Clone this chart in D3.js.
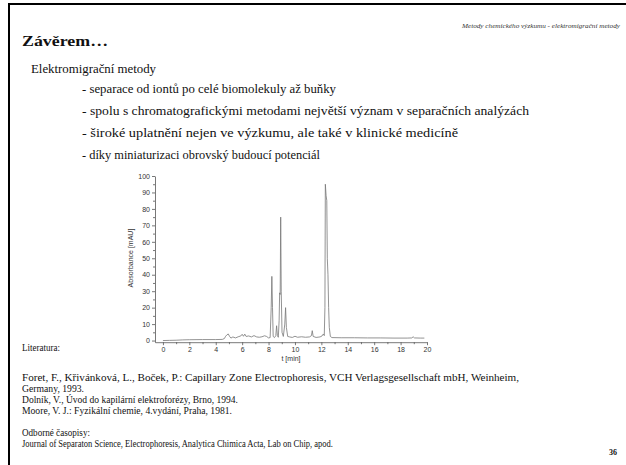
<!DOCTYPE html>
<html>
<head>
<meta charset="utf-8">
<script src="https://cdn.jsdelivr.net/npm/d3@7"></script>
<style>
  html, body { margin: 0; padding: 0; background: #fff; }
  svg { display: block; }
</style>
</head>
<body>
<svg id="slide"></svg>
<script>
// chromatogram trace: [time in min, absorbance in mAU]
const trace = [
  [0, 0], [0.5, 0.1], [1, 0.2], [1.5, 0.4], [2, 0.5], [3, 0.6], [4, 0.6], [4.5, 0.7],
  [4.65, 1.2], [4.75, 2.6], [4.85, 3.5], [4.95, 4], [5.05, 2.5], [5.15, 1.5], [5.3, 2.2],
  [5.5, 1.6], [5.7, 2.3], [5.9, 2.8], [6.0, 3.8], [6.1, 2.6], [6.2, 3.9], [6.3, 2.5],
  [6.5, 2.8], [6.7, 2.2], [6.9, 3.0], [7.1, 2.2], [7.3, 2.0], [7.5, 2.3], [7.7, 2.9],
  [7.85, 2.5], [8.0, 1.6], [8.12, 1.8], [8.2, 20], [8.25, 39], [8.3, 20], [8.35, 2.5],
  [8.45, 1.8], [8.55, 3], [8.61, 9], [8.67, 3], [8.74, 2], [8.8, 12], [8.84, 29],
  [8.88, 28], [8.92, 75], [8.96, 30], [9.02, 5], [9.12, 2.5], [9.23, 10], [9.29, 20],
  [9.35, 8], [9.45, 2.5], [9.6, 2.2], [9.8, 1.9], [10, 2.6], [10.2, 2.0], [10.5, 2.3],
  [10.8, 2.0], [11.1, 2.2], [11.25, 3], [11.31, 6], [11.38, 2.5], [11.6, 1.9], [11.9, 2.2],
  [12.05, 2.8], [12.15, 4], [12.22, 3], [12.27, 20], [12.3, 95], [12.36, 88], [12.41, 85],
  [12.45, 50], [12.5, 40], [12.55, 20], [12.6, 8], [12.68, 2.5], [12.8, 1.8], [13.5, 1.7],
  [14.5, 1.7], [15.5, 1.6], [16.5, 1.6], [17.5, 1.5], [18.5, 1.5], [18.85, 1.6],
  [18.95, 2.3], [19.05, 1.6], [19.5, 1.5], [19.8, 1.5]
];

const xTickValues = [0, 2, 4, 6, 8, 10, 12, 14, 16, 18, 20];
const xMinorValues = [1, 3, 5, 7, 9, 11, 13, 15, 17, 19];
const yTickValues = [0, 10, 20, 30, 40, 50, 60, 70, 80, 90, 100];
const yMinorValues = [5, 15, 25, 35, 45, 55, 65, 75, 85, 95];

const headerText = "Metody chemického výzkumu - elektromigrační metody";
const titleText = "Závěrem…";
const subtitleText = "Elektromigrační metody";
const bullets = [
  "- separace od iontů po celé biomolekuly až buňky",
  "- spolu s chromatografickými metodami největší význam v separačních analýzách",
  "- široké uplatnění nejen ve výzkumu, ale také v klinické medicíně",
  "- díky miniaturizaci obrovský budoucí potenciál"
];
const references = [
  "Foret, F., Křivánková, L., Boček, P.: Capillary Zone Electrophoresis, VCH Verlagsgesellschaft mbH, Weinheim,",
  "Germany, 1993.",
  "Dolník, V., Úvod do kapilární elektroforézy, Brno, 1994.",
  "Moore, V. J.: Fyzikální chemie, 4.vydání,  Praha, 1981."
];
const journalsTitle = "Odborné časopisy:";
const journals = "Journal of Separaton Science, Electrophoresis, Analytica Chimica Acta, Lab on Chip, apod.";
const pageNumber = "36";

const W = 626, H = 465;
const svg = d3.select('#slide')
  .attr('width', W)
  .attr('height', H);

svg.append('rect').attr('width', W).attr('height', H).attr('fill', '#fff');

// slide frame
svg.append('line')
  .attr('x1', 8).attr('x2', W).attr('y1', 4).attr('y2', 4)
  .attr('stroke', '#000').attr('stroke-width', 2);
svg.append('line')
  .attr('x1', 9).attr('x2', 9).attr('y1', 3).attr('y2', H)
  .attr('stroke', '#000').attr('stroke-width', 2);

const serif = "'Liberation Serif', 'Times New Roman', serif";

function addText(str, x, y, size, opts) {
  opts = opts || {};
  const t = svg.append('text')
    .attr('x', x)
    .attr('y', y)
    .attr('font-family', serif)
    .attr('font-size', size + 'px')
    .attr('fill', opts.fill || '#111')
    .text(str);
  if (opts.weight) t.attr('font-weight', opts.weight);
  if (opts.style) t.attr('font-style', opts.style);
  if (opts.anchor) t.attr('text-anchor', opts.anchor);
  if (opts.width) t.attr('textLength', opts.width).attr('lengthAdjust', 'spacingAndGlyphs');
  return t;
}

addText(headerText, 620, 28, 7, { style: 'italic', anchor: 'end', width: 158, fill: '#333' });
addText(titleText, 22, 46, 15.5, { weight: 'bold', width: 86 });
addText(subtitleText, 31, 73, 12.5, { width: 125 });

const bulletY = [93, 115, 137, 159];
const bulletW = [254, 447, 376, 238];
bullets.forEach((b, i) => addText(b, 82, bulletY[i], 11.8, { width: bulletW[i] }));

addText("Literatura:", 22, 351, 9.5, { width: 38 });
const refY = [381, 392, 403, 414];
const refW = [497, 62, 216, 210];
references.forEach((r, i) => addText(r, 22, refY[i], 9.6, { width: refW[i] }));
addText(journalsTitle, 22, 436, 9.6, { width: 68 });
addText(journals, 22, 447, 9.6, { width: 311 });
addText(pageNumber, 617, 455, 8, { weight: 'bold', anchor: 'end' });

// ---- chromatogram ----
const x = d3.scaleLinear().domain([-0.6, 20]).range([155, 427]);
const y = d3.scaleLinear().domain([-1, 100]).range([342.2, 176]);

const chart = svg.append('g').attr('font-family', "'Liberation Sans', Arial, sans-serif");
const axisColor = '#555';

const xAxisG = chart.append('g')
  .attr('transform', `translate(0,${y(-1)})`)
  .call(d3.axisBottom(x).tickValues(xTickValues).tickSize(3).tickSizeOuter(0).tickPadding(2));
const xMinorG = chart.append('g')
  .attr('transform', `translate(0,${y(-1)})`)
  .call(d3.axisBottom(x).tickValues(xMinorValues).tickSize(2).tickSizeOuter(0).tickFormat(''));
xMinorG.select('.domain').remove();

const yAxisG = chart.append('g')
  .attr('transform', `translate(${x(-0.6)},0)`)
  .call(d3.axisLeft(y).tickValues(yTickValues).tickSize(3).tickSizeOuter(0).tickPadding(2));
const yMinorG = chart.append('g')
  .attr('transform', `translate(${x(-0.6)},0)`)
  .call(d3.axisLeft(y).tickValues(yMinorValues).tickSize(2).tickSizeOuter(0).tickFormat(''));
yMinorG.select('.domain').remove();

chart.selectAll('.domain, .tick line')
  .attr('stroke', axisColor).attr('stroke-width', 0.8);
chart.selectAll('.tick text')
  .attr('font-family', "'Liberation Sans', Arial, sans-serif")
  .attr('font-size', '7px')
  .attr('fill', '#333');

chart.append('text')
  .attr('x', 291).attr('y', 361)
  .attr('text-anchor', 'middle')
  .attr('font-size', '7px')
  .attr('fill', '#333')
  .text('t [min]');

chart.append('text')
  .attr('transform', 'translate(133,258) rotate(-90)')
  .attr('text-anchor', 'middle')
  .attr('font-size', '7px')
  .attr('fill', '#333')
  .text('Absorbance [mAU]');

const line = d3.line()
  .x(d => x(d[0]))
  .y(d => y(d[1]));

chart.append('path')
  .datum(trace)
  .attr('d', line)
  .attr('fill', 'none')
  .attr('stroke', '#777')
  .attr('stroke-width', 0.8)
  .attr('stroke-linejoin', 'round');
</script>
</body>
</html>
